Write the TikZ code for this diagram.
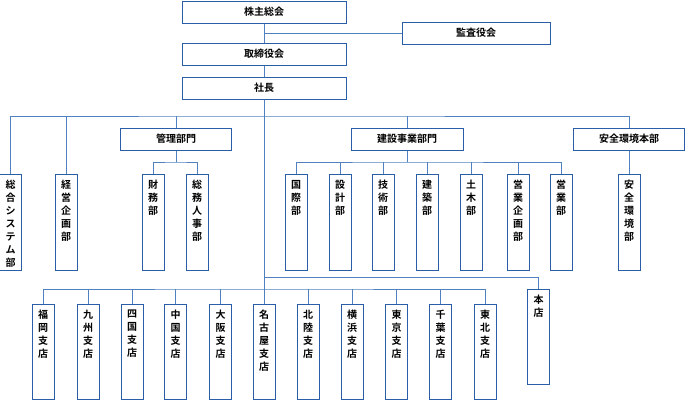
\documentclass[tikz,border=0pt]{standalone}
\usepackage{fontspec}
\setmainfont{Noto Sans CJK JP}[BoldFont={* Bold}]
\usetikzlibrary{positioning}
\definecolor{boxblue}{HTML}{2A5EA8}
\definecolor{lineblue}{HTML}{4F80C0}
\tikzset{
  hbox/.style={draw=boxblue,line width=1pt,fill=white,minimum height=22pt,inner sep=0pt,font=\fontsize{10}{12}\selectfont\bfseries},
  tate/.style={draw=boxblue,line width=1pt,fill=white,minimum width=22pt,inner sep=0pt},
  tatetext/.style={anchor=north,align=center,inner sep=0pt,font=\fontsize{10}{13}\selectfont\bfseries},
  link/.style={draw=lineblue,line width=0.9pt}
}
\newcommand\tatebox[5]{% name, x, ytop, height, text
  \node[tate,minimum height=#4pt,anchor=north] (#1) at (#2,#3) {};
  \node[tatetext] at ([yshift=-6pt]#1.north) {#5};
}
\begin{document}
\begin{tikzpicture}[x=1pt,y=-1pt]
\useasboundingbox (0,0) rectangle (686,402);
% top
\node[hbox,minimum width=164pt] (kabu) at (264,12) {株主総会};
\node[hbox,minimum width=148pt] (kansa) at (476,33) {監査役会};
\node[hbox,minimum width=164pt] (tori) at (264,54) {取締役会};
\node[hbox,minimum width=164pt] (shacho) at (264,88) {社長};
\coordinate (kj) at (264,33);
\draw[link] (kabu) -- (tori);
\draw[link] (kj) -- (kansa);
\draw[link] (tori) -- (shacho);
% divisions
\node[hbox,minimum width=111pt] (kanri) at (176,139) {管理部門};
\node[hbox,minimum width=112pt] (kensetsu) at (407,139) {建設事業部門};
\node[hbox,minimum width=111pt] (anzen) at (629,139) {安全環境本部};
\tatebox{sogo}{10.5}{174}{96}{総\\合\\シ\\ス\\テ\\ム\\部}
\tatebox{keiei}{66}{174}{96}{経\\営\\企\\画\\部}
\tatebox{zaimu}{153}{174}{96}{財\\務\\部}
\tatebox{somu}{197}{174}{96}{総\\務\\人\\事\\部}
\tatebox{kokusai}{296}{174}{96}{国\\際\\部}
\tatebox{sekkei}{340}{174}{96}{設\\計\\部}
\tatebox{gijutsu}{383}{174}{96}{技\\術\\部}
\tatebox{kenchiku}{427}{174}{96}{建\\築\\部}
\tatebox{doboku}{471}{174}{96}{土\\木\\部}
\tatebox{eikikaku}{518}{174}{96}{営\\業\\企\\画\\部}
\tatebox{eigyo}{561}{174}{96}{営\\業\\部}
\tatebox{anzenbu}{629}{174}{96}{安\\全\\環\\境\\部}
% main line
\coordinate (m) at (264,116);
\draw[link] (shacho.south) -- (m);
\draw[link] (sogo.north) |- (m) -| (anzen.north);
\draw[link] (keiei.north) -- (keiei.north |- m);
\draw[link] (kanri.north) -- (kanri.north |- m);
\draw[link] (kensetsu.north) -- (kensetsu.north |- m);
\draw[link] (anzen.south) -- (anzenbu.north);
% sub lines
\coordinate (kb) at (176,162);
\draw[link] (kanri.south) -- (kb);
\draw[link] (zaimu.north) |- (kb) -| (somu.north);
\coordinate (eb) at (407,162);
\draw[link] (kensetsu.south) -- (eb);
\draw[link] (kokusai.north) |- (eb) -| (eigyo.north);
\foreach \n in {sekkei,gijutsu,kenchiku,doboku,eikikaku}
  \draw[link] (\n.north) -- (\n.north |- eb);
% branches
\tatebox{honten}{538.5}{289}{95}{本\\店}
\tatebox{fukuoka}{43}{304}{95}{福\\岡\\支\\店}
\tatebox{kyushu}{88}{304}{95}{九\\州\\支\\店}
\tatebox{shikoku}{132}{304}{95}{四\\国\\支\\店}
\tatebox{chugoku}{175.5}{304}{95}{中\\国\\支\\店}
\tatebox{osaka}{220.5}{304}{95}{大\\阪\\支\\店}
\tatebox{nagoya}{264}{304}{95}{名\\古\\屋\\支\\店}
\tatebox{hokuriku}{308}{304}{95}{北\\陸\\支\\店}
\tatebox{yokohama}{352}{304}{95}{横\\浜\\支\\店}
\tatebox{tokyo}{396.5}{304}{95}{東\\京\\支\\店}
\tatebox{chiba}{440.5}{304}{95}{千\\葉\\支\\店}
\tatebox{tohoku}{485}{304}{95}{東\\北\\支\\店}
\coordinate (hj) at (264,277);
\coordinate (bb) at (264,289);
\draw[link] (m) -- (nagoya.north);
\draw[link] (hj) -| (honten.north);
\draw[link] (fukuoka.north) |- (bb) -| (tohoku.north);
\foreach \n in {kyushu,shikoku,chugoku,osaka,hokuriku,yokohama,tokyo,chiba}
  \draw[link] (\n.north) -- (\n.north |- bb);
\end{tikzpicture}
\end{document}
